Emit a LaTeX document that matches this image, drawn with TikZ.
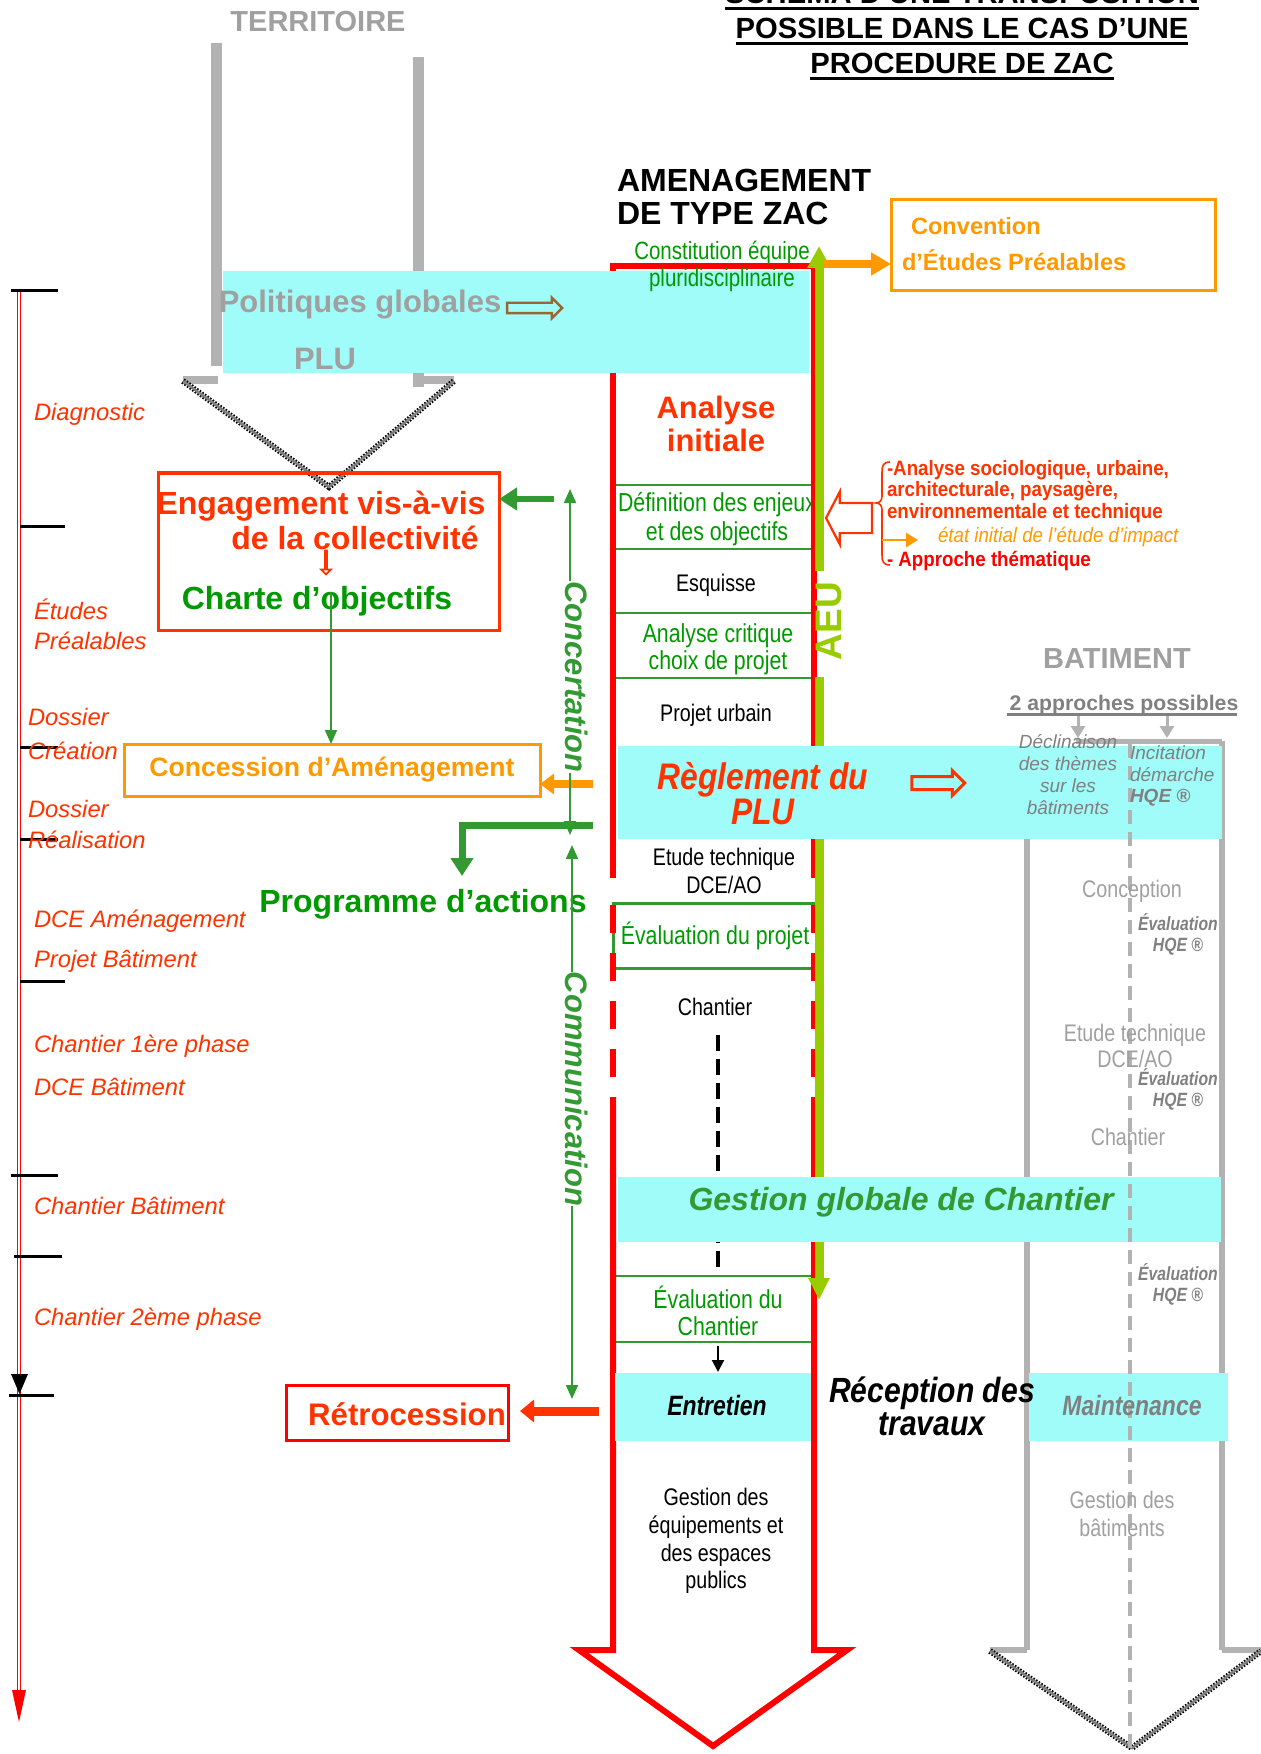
\documentclass[tikz,border=0pt]{standalone}
\usepackage{fontspec}
\setmainfont{Liberation Sans}
\newfontfamily\narrowf[FakeStretch=0.82]{Liberation Sans}
\newfontfamily\semif[FakeStretch=0.9]{Liberation Sans}
\newfontfamily\midf[FakeStretch=0.86]{Liberation Sans}
\usetikzlibrary{arrows.meta,shapes.arrows,calc}
\newcommand\fsz[2]{\fontsize{#1}{#2}\selectfont}

\definecolor{zred}{HTML}{FF3300}
\definecolor{pred}{HTML}{FF0000}
\definecolor{zorange}{HTML}{FF9900}
\definecolor{zgreen}{HTML}{009900}
\definecolor{dgreen}{HTML}{339933}
\definecolor{lime}{HTML}{99CC00}
\definecolor{zcyan}{HTML}{A0FCF8}
\definecolor{lgray}{HTML}{B2B2B2}
\definecolor{tgray}{HTML}{A0A0A0}
\definecolor{mgray}{HTML}{808080}
\definecolor{zbrown}{HTML}{996633}

\tikzset{
  lbl/.style={anchor=west, font=\fsz{11.9}{14}\itshape, text=zred},
  coltxt/.style={font=\narrowf\fsz{12}{14}, align=center},
  grtxt/.style={font=\narrowf\fsz{13}{14}, text=zgreen, align=center},
  graytxt/.style={font=\narrowf\fsz{12}{13}, text=tgray, align=center},
  hqe/.style={font=\narrowf\bfseries\itshape\fsz{9.6}{10.5}, text=mgray, align=center},
  tick/.style={line width=1.5pt, black},
  gbar/.style={lgray, line width=5.5pt},
  bline/.style={lgray, line width=3pt},
  sepline/.style={dgreen, line width=1.2pt},
  checker/.style={draw=black, line width=3pt, dash pattern=on 0.8pt off 0.8pt,
    postaction={draw=gray, line width=1.3pt, solid}},
  hollow/.style={single arrow, draw, line width=1.1pt, minimum width=0pt, inner xsep=0pt},
  thinarrow/.style={dgreen, line width=1pt, -{Triangle[length=7pt,width=6pt]}},
}

\begin{document}
\begin{tikzpicture}[x=0.5pt,y=-0.5pt,every node/.style={inner sep=0pt,outer sep=0pt}]
\useasboundingbox (0,0) rectangle (1261,1754);

% ---------- title
\node[font=\bfseries\fsz{14.6}{16}, anchor=base] (ttl1) at (962,4) {SCHEMA D’UNE TRANSPOSITION};
\node[font=\bfseries\fsz{14.6}{16}, anchor=base] (ttl2) at (962,39) {POSSIBLE DANS LE CAS D’UNE};
\node[font=\bfseries\fsz{14.6}{16}, anchor=base] (ttl3) at (962,74) {PROCEDURE DE ZAC};
\foreach \t in {ttl1,ttl2,ttl3}
  \draw[line width=1.5pt] ($(\t.base west)+(0,5)$) -- ($(\t.base east)+(0,5)$);

% ---------- territory arrow
\node[font=\bfseries\fsz{14.5}{16}, text=tgray] (terr) at (318,22) {TERRITOIRE};
\draw[gbar] (216,43) -- (216,366);
\draw[gbar] (418,57) -- (418,387);
\draw[lgray, line width=4pt] (183,380) -- (218,380);
\draw[lgray, line width=4pt] (418,380) -- (454,380);
\draw[checker] (183,381) -- (329,487) -- (454,381);

% ---------- building arrow (grey)
\draw[bline] (1027,760) -- (1027,1650);
\draw[bline] (1222,741) -- (1222,1650);
\draw[lgray, line width=2.5pt] (1076,741) -- (1222,741);
\draw[bline] (990,1650) -- (1027,1650);
\draw[bline] (1222,1650) -- (1261,1650);
\draw[checker] (990,1651) -- (1132,1748) -- (1261,1651);

% ---------- time line
\coordinate (tltop) at (19,291);
\coordinate (tlend) at (19,1694);
\draw[pred, double=white, double distance=0.9pt, line width=0.75pt] (tltop) -- (tlend);
\fill[pred] (12,1690) -- (26,1690) -- (19,1722) -- cycle;
\foreach \ya/\xa/\xb in {291/11/58, 526/20/65, 747/20/58, 839/20/58, 981/20/65, 1175/11/58, 1256/14/62, 1395/9/54}
  \draw[tick] (\xa,\ya) -- (\xb,\ya);
\fill (11,1374) -- (28,1374) -- (19.5,1394) -- cycle;

\node[lbl] (l1) at (34,414) {Diagnostic};
\node[lbl] (l2) at (34,609) {Études};
\node[lbl] (l3) at (34,641) {Préalables};
\node[lbl] (l4) at (28,717) {Dossier};
\node[lbl] (l5) at (28,751) {Création};
\node[lbl] (l6) at (28,809) {Dossier};
\node[lbl] (l7) at (28,840) {Réalisation};
\node[lbl] (l8) at (34,921) {DCE Aménagement};
\node[lbl] (l9) at (34,961) {Projet Bâtiment};
\node[lbl] (l10) at (34,1046) {Chantier 1ère phase};
\node[lbl] (l11) at (34,1087) {DCE Bâtiment};
\node[lbl] (l12) at (34,1206) {Chantier Bâtiment};
\node[lbl] (l13) at (34,1319) {Chantier 2ème phase};

% ---------- ZAC column texts
\node[font=\bfseries\fsz{16}{16.5}, align=left, anchor=west] (amen) at (617,197) {AMENAGEMENT\\DE TYPE ZAC};
\node[font=\bfseries\fsz{15.5}{16.5}, text=zred, align=center] (anain) at (716,424) {Analyse\\initiale};
\node[grtxt, font=\narrowf\fsz{13}{14.5}] (defin) at (717,519) {Définition des enjeux\\et des objectifs};
\node[coltxt] (esq) at (716,585) {Esquisse};
\node[grtxt, font=\narrowf\fsz{13}{13.5}] (crit) at (718,649) {Analyse critique\\choix de projet};
\node[coltxt] (purb) at (716,715) {Projet urbain};
\node[coltxt] (etude) at (724,871) {Etude technique\\DCE/AO};
\node[draw=dgreen, line width=1.5pt, minimum width=102pt, minimum height=32.5pt, grtxt] (evalp) at (715,936) {Évaluation du projet};
\node[coltxt] (chant) at (715,1007) {Chantier};
\node[grtxt, font=\narrowf\fsz{13}{13.5}] (evalch) at (718,1311) {Évaluation du\\Chantier};
\node[coltxt, font=\narrowf\fsz{12}{13.8}] (gesteq) at (716,1541) {Gestion des\\équipements et\\des espaces\\publics};

\foreach \y in {485,549,613,678,1276,1342}
  \draw[sepline] (616,\y) -- (811,\y);

\coordinate (dtop) at (718,1035);
\coordinate (dbot) at (718,1273);
\draw[black, line width=1.6pt, dash pattern=on 8pt off 4pt] (dtop) -- (dbot);
\coordinate (ka) at (718,1346);
\coordinate (kb) at (718,1372);
\draw[black, line width=1pt, -{Triangle[length=6pt,width=6pt]}] (ka) -- (kb);

% ---------- ZAC red arrow
\draw[pred, line width=3pt] (613,878) -- (613,266) -- (814,266) -- (814,878);
\draw[pred, line width=3pt, dash pattern=on 14pt off 10pt] (613,905) -- (613,1097);
\draw[pred, line width=3pt, dash pattern=on 14pt off 10pt] (814,905) -- (814,1097);
\draw[pred, line width=3pt, line join=miter] (613,1097) -- (613,1650) -- (579,1650) -- (713,1746) -- (847,1650) -- (814,1650) -- (814,1097);

% ---------- AEU
\coordinate (aeutop) at (819,246);
\coordinate (aeua) at (819,571);
\coordinate (aeub) at (819,677);
\coordinate (aeubot) at (819,1300);
\draw[lime, line width=4.5pt, -{Triangle[length=11pt,width=11pt]}] (aeua) -- (aeutop);
\draw[lime, line width=4.5pt, -{Triangle[length=11pt,width=10pt]}] (aeub) -- (aeubot);
\node[rotate=90, font=\bfseries\fsz{18.5}{19}, text=lime] (aeu) at (829,621) {AEU};

% ---------- bands
\fill[zcyan] (223,271) rectangle (809,373);
\fill[zcyan] (618,746) rectangle (1222,839);
\fill[zcyan] (618,1177) rectangle (1221,1242);
\fill[zcyan] (615,1373) rectangle (811,1441);
\fill[zcyan] (1029,1373) rectangle (1228,1441);

\node[font=\bfseries\fsz{15.5}{16}, text=tgray] (polg) at (360,305) {Politiques globales};
\node[hollow, draw=zbrown, line width=1.2pt, minimum height=27.5pt, inner ysep=2pt, single arrow head extend=2.5pt] (polar) at (532,308) {};
\node[font=\bfseries\fsz{15.5}{16}, text=tgray] (plu) at (325,359) {PLU};
\node[grtxt, font=\narrowf\fsz{12.5}{13.5}] (constit) at (722,266) {Constitution équipe\\pluridisciplinaire};

\node[font=\midf\bfseries\itshape\fsz{18.5}{15.5}, text=zred, align=center] (regl) at (763,794) {Règlement du\\PLU};
\node[hollow, draw=zred, line width=1.5pt, minimum height=26.5pt, inner ysep=2.5pt, single arrow head extend=3pt] (reglar) at (935,783) {};
\node[font=\bfseries\itshape\fsz{16}{17}, text=dgreen] (ggc) at (901,1202) {Gestion globale de Chantier};
\node[font=\narrowf\bfseries\itshape\fsz{14}{15}] (entr) at (717,1405) {Entretien};
\node[font=\midf\bfseries\itshape\fsz{17.5}{16.5}, align=center] (recep) at (932,1406) {Réception des\\travaux};

% ---------- convention
\node[draw=zorange, line width=1.5pt, minimum width=162pt, minimum height=45.5pt] (convbox) at (1053,245.5) {};
\node[anchor=west, font=\bfseries\fsz{11.8}{13}, text=zorange] (conv1) at (911,226) {Convention};
\node[anchor=west, font=\bfseries\fsz{11.8}{13}, text=zorange] (conv2) at (902,260) {d’Études Préalables};
\coordinate (convsrc) at (824,264);
\draw[zorange, line width=4pt, -{Triangle[length=10pt,width=11pt]}] (convsrc) -- (convsrc -| convbox.west);

% ---------- engagement / concession
\node[draw=zred, line width=1.5pt, minimum width=170.5pt, minimum height=78.5pt] (engbox) at (328.5,551.5) {};
\node[font=\bfseries\fsz{16}{17}, text=zred] (eng1) at (321,506) {Engagement vis-à-vis};
\node[font=\bfseries\fsz{16}{17}, text=zred] (eng2) at (355,538) {de la collectivité};
\node[hollow, draw=zred, line width=0.9pt, shape border rotate=270, minimum height=12pt, inner ysep=1.8pt, single arrow head extend=2pt] (engar) at (326,562) {};
\node[font=\bfseries\fsz{16}{17}, text=zgreen] (charte) at (317,601) {Charte d’objectifs};
\node[draw=zorange, line width=1.5pt, minimum width=208pt, minimum height=26pt, font=\bfseries\fsz{13.3}{14}, text=zorange] (concbox) at (332,770) {Concession d’Aménagement};
\coordinate (chs) at (331,592);
\draw[thinarrow] (chs) -- (chs |- concbox.north);

\coordinate (engsrc) at (554,499);
\draw[dgreen, line width=3pt, -{Triangle[length=9pt,width=11pt]}] (engsrc) -- (engsrc -| engbox.east);
\coordinate (concsrc) at (593,784);
\draw[zorange, line width=4pt, -{Triangle[length=7pt,width=10pt]}] (concsrc) -- (concsrc -| concbox.east);

\node[font=\bfseries\fsz{16}{17}, text=zgreen] (prog) at (423,904) {Programme d’actions};
\coordinate (progsrc) at (593,825);
\coordinate (progend) at (462,876);
\draw[dgreen, line width=3.5pt, -{Triangle[length=9pt,width=11pt]}] (progsrc) -| (progend);

% ---------- concertation / communication
\node[rotate=-90, font=\bfseries\itshape\fsz{15.5}{16}, text=dgreen] (conc) at (577,677) {Concertation};
\coordinate (ctop) at (570,489);
\coordinate (cbot) at (570,835);
\draw[thinarrow] (ctop |- conc.west) -- (ctop);
\draw[thinarrow] (cbot |- conc.east) -- (cbot);
\node[rotate=-90, font=\bfseries\itshape\fsz{15.5}{16}, text=dgreen] (comm) at (577,1089) {Communication};
\coordinate (mtop) at (572,845);
\coordinate (mbot) at (572,1399);
\draw[thinarrow] (mtop |- comm.west) -- (mtop);
\draw[thinarrow] (mbot |- comm.east) -- (mbot);

% ---------- retrocession
\node[draw=pred, line width=1.5pt, minimum width=111pt, minimum height=27.5pt] (retbox) at (397,1412.5) {};
\node[font=\bfseries\fsz{15.6}{16}, text=zred] (retro) at (407,1414) {Rétrocession};
\coordinate (retsrc) at (599,1411);
\coordinate (retend) at (520,1411);
\draw[zred, line width=4.5pt, -{Triangle[length=7pt,width=11pt]}] (retsrc) -- (retend);

% ---------- initial analysis notes
\node[hollow, draw=zred, line width=1.1pt, shape border rotate=180, minimum height=23pt, inner ysep=7pt, single arrow head extend=5.5pt, single arrow tip angle=125] (hol) at (853,518) {};
\draw[zred, line width=0.8pt] (890,462) .. controls (883,462) and (882,466) .. (882,472) -- (882,496) .. controls (882,500) and (880,503) .. (876,503) .. controls (880,503) and (882,506) .. (882,510) -- (882,555) .. controls (882,561) and (883,565) .. (890,565);
\node[anchor=west, font=\semif\bfseries\fsz{10.4}{12}, text=zred] (an1) at (887,470) {-Analyse sociologique, urbaine,};
\node[anchor=west, font=\semif\bfseries\fsz{10.4}{12}, text=zred] (an2) at (887,491) {architecturale, paysagère,};
\node[anchor=west, font=\semif\bfseries\fsz{10.4}{12}, text=zred] (an3) at (887,513) {environnementale et technique};
\node[anchor=west, font=\semif\itshape\fsz{10.4}{12}, text=zorange] (an4) at (938,537) {état initial de l’étude d’impact};
\node[anchor=west, font=\semif\bfseries\fsz{10.4}{12}, text=pred] (an5) at (887,561) {- Approche thématique};
\coordinate (oas) at (882,540);
\coordinate (oae) at (918,540);
\draw[zorange, line width=1.3pt, -{Triangle[length=6pt,width=7pt]}] (oas) -- (oae);

% ---------- building column texts
\draw[lgray, line width=1.6pt, dash pattern=on 7pt off 4pt] (1130,744) -- (1130,1748);
\node[font=\bfseries\fsz{14.5}{16}, text=tgray] (bat) at (1117,659) {BATIMENT};
\node[font=\bfseries\fsz{10.6}{12}, text=mgray, anchor=base] (appr) at (1124,710) {2 approches possibles};
\draw[mgray, line width=1.5pt] (1007,714) -- (1237,714);
\coordinate (ba1) at (1078,716);
\coordinate (ba2) at (1167,716);
\draw[lgray, line width=1.5pt, -{Triangle[length=6pt,width=7pt]}] (ba1) -- (1078,738);
\draw[lgray, line width=1.5pt, -{Triangle[length=6pt,width=7pt]}] (ba2) -- (1167,738);
\node[font=\itshape\fsz{9.5}{11}, text=mgray, align=center] (decl) at (1068,775) {Déclinaison\\des thèmes\\sur les\\bâtiments};
\node[font=\itshape\fsz{9.5}{10.8}, text=mgray, align=left, anchor=west] (incit) at (1130,776) {Incitation\\démarche\\\textbf{HQE ®}};
\node[graytxt] (bconc) at (1132,891) {Conception};
\node[hqe] (hqe1) at (1178,934) {Évaluation\\HQE ®};
\node[graytxt] (bet) at (1135,1046) {Etude technique\\DCE/AO};
\node[hqe] (hqe2) at (1178,1089) {Évaluation\\HQE ®};
\node[graytxt] (bch) at (1128,1137) {Chantier};
\node[hqe] (hqe3) at (1178,1284) {Évaluation\\HQE ®};
\node[font=\narrowf\bfseries\itshape\fsz{14}{15}, text=mgray] (maint) at (1132,1405) {Maintenance};
\node[graytxt, font=\narrowf\fsz{12}{14}] (gbat) at (1122,1514) {Gestion des\\bâtiments};

\end{tikzpicture}
\end{document}
